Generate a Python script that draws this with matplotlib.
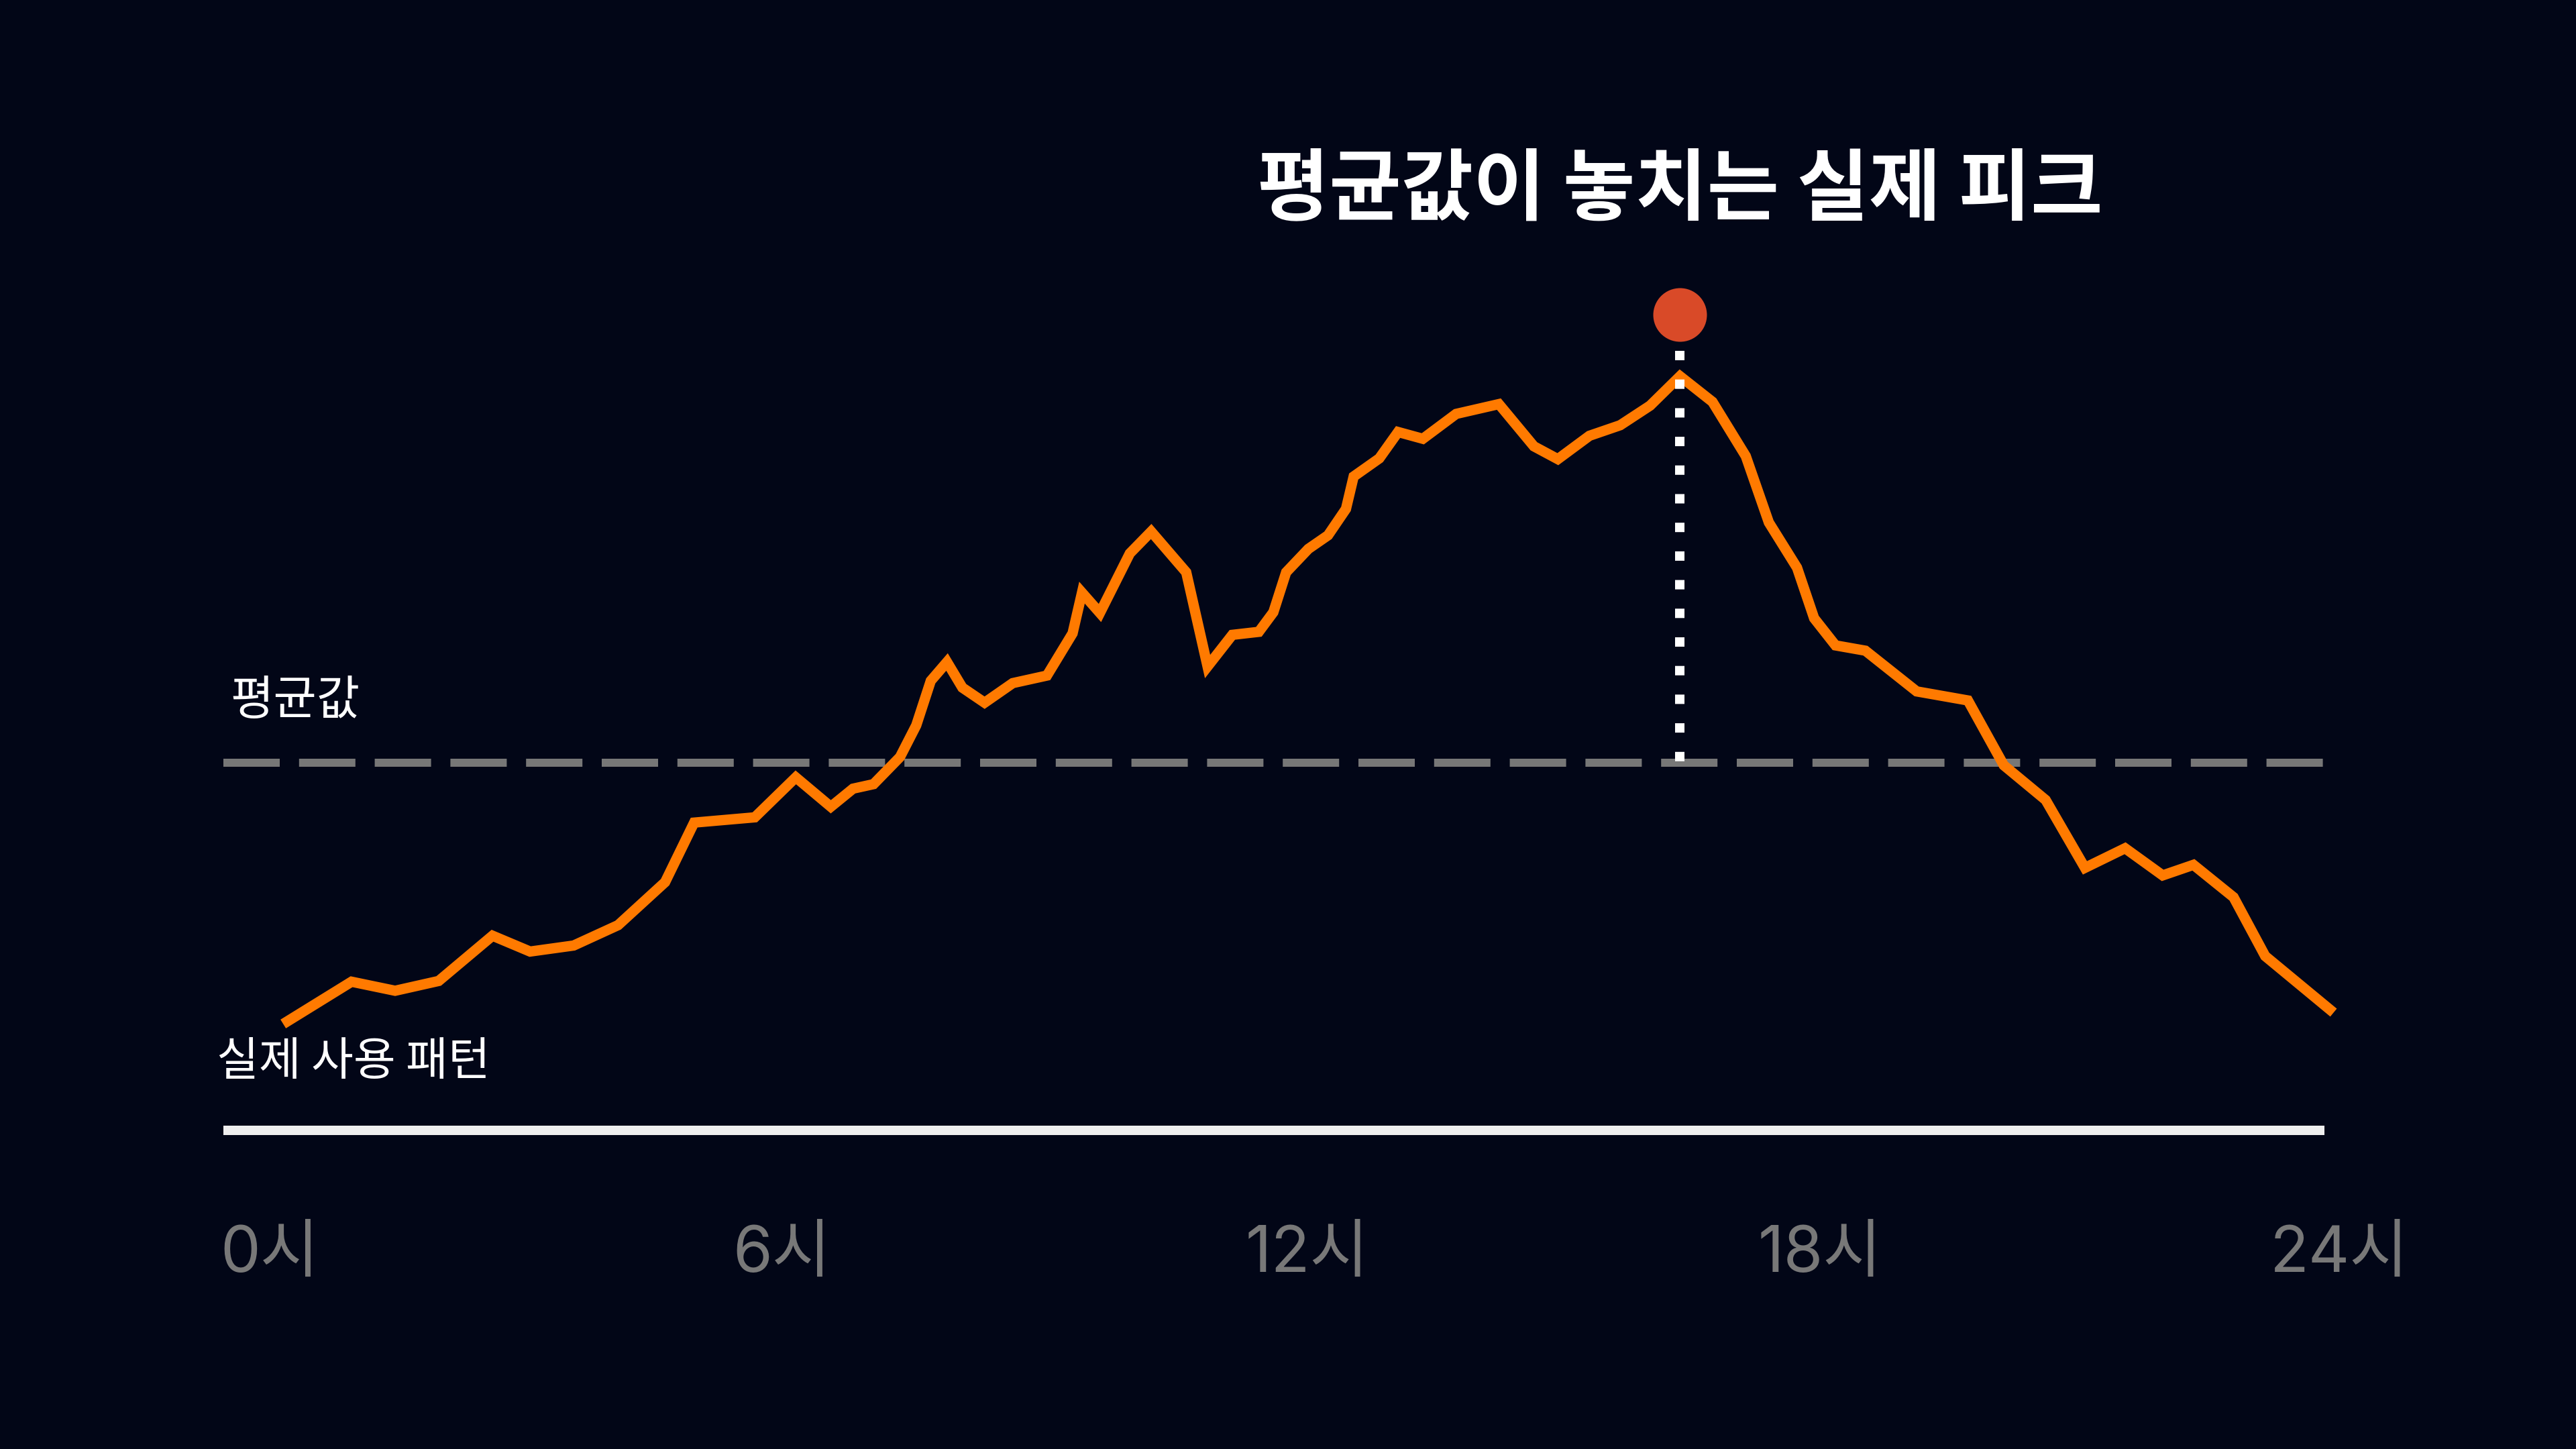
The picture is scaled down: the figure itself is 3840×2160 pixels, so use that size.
import matplotlib
matplotlib.use('Agg')
import matplotlib.pyplot as plt

plt.rcParams['font.family'] = ['Noto Sans CJK KR', 'DejaVu Sans']

# usage pattern over the day (hour, relative usage)
hours = [0.00, 0.80, 1.31, 1.82, 2.45, 2.89, 3.40, 3.92, 4.47, 4.81,
         5.52, 6.00, 6.41, 6.67, 6.91, 7.22, 7.41, 7.58, 7.77, 7.95,
         8.21, 8.54, 8.94, 9.24, 9.35, 9.56, 9.91, 10.16, 10.57, 10.82,
         11.11, 11.42, 11.59, 11.74, 12.00, 12.23, 12.44, 12.53, 12.83, 13.05,
         13.34, 13.73, 14.23, 14.64, 14.92, 15.29, 15.65, 16.00, 16.35, 16.73,
         17.12, 17.39, 17.72, 17.92, 18.17, 18.52, 19.12, 19.72, 20.14, 20.63,
         21.09, 21.56, 22.00, 22.36, 22.83, 23.20, 24.00]
usage = [14.1, 19.7, 18.5, 19.8, 25.8, 23.7, 24.5, 27.2, 32.9, 40.8,
         41.5, 46.8, 42.9, 45.3, 45.9, 49.5, 53.7, 59.6, 62.1, 58.7,
         56.7, 59.3, 60.3, 65.9, 71.3, 68.6, 76.5, 79.4, 74.0, 61.5,
         65.7, 66.1, 68.7, 74.0, 77.1, 78.9, 82.4, 86.7, 89.1, 92.6,
         91.7, 95.0, 96.3, 90.7, 89.0, 92.1, 93.5, 96.1, 100.0, 96.6,
         89.4, 80.6, 74.6, 67.9, 64.3, 63.6, 58.2, 57.0, 48.4, 43.8,
         34.8, 37.4, 33.8, 35.2, 30.9, 23.1, 15.6]
average = 48.7

tick_hours = [0, 6, 12, 18, 24]
tick_labels = ['0시', '6시', '12시', '18시', '24시']

peak_i = usage.index(max(usage))
peak_h = hours[peak_i]
peak_v = usage[peak_i]

bg = '#020617'
fig = plt.figure(figsize=(16, 9), dpi=240, facecolor=bg)
ax = fig.add_axes([0, 0, 1, 1])
ax.set_facecolor(bg)
ax.set_xlim(-3.315, 26.838)
ax.set_ylim(-42.27, 149.89)
ax.axis('off')

x0, x1 = -0.70, 23.89

# baseline
ax.plot([x0, x1], [0, 0], color='#efefef', lw=4.2, solid_capstyle='butt', zorder=2)

# average line
ax.plot([x0, x1], [average, average], color='#777777', lw=3.6,
        linestyle=(0, (7, 2.4)), dash_capstyle='butt', zorder=1)

# actual usage
ax.plot(hours, usage, color='#ff7a00', lw=4.6, solid_joinstyle='miter',
        solid_capstyle='butt', zorder=3)

# peak marker
ax.plot([peak_h, peak_h], [peak_v + 3.4, average], color='white', lw=4.2,
        linestyle=(0, (1, 2.05)), dash_capstyle='butt', zorder=4)
ax.plot(peak_h, peak_v + 8.2, 'o', color='#d94a28', markersize=24,
        markeredgewidth=0, zorder=5)

ax.text(peak_h, 124.6, '평균값이 놓치는 실제 피크', color='white', fontsize=35,
        fontweight='bold', ha='center', va='center')
ax.text(-0.62, 56.9, '평균값', color='white', fontsize=21, ha='left', va='center')
ax.text(-0.78, 9.0, '실제 사용 패턴', color='white', fontsize=20.5, ha='left', va='center')

for h, lab in zip(tick_hours, tick_labels):
    ax.text(h - 0.74, -18.8, lab, color='#787878', fontsize=28.5,
            ha='left', va='baseline', family=['Inter', 'Noto Sans CJK KR'])

fig.savefig('out.png', dpi=240, facecolor=bg)
